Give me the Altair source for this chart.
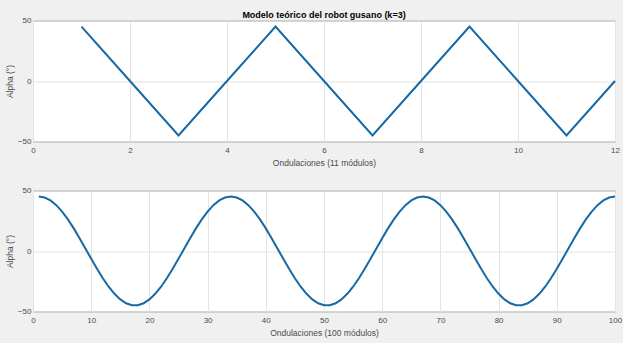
import altair as alt
import pandas as pd

# Top panel: 11 modules (x = 1..12)
x_top = [1, 2, 3, 4, 5, 6, 7, 8, 9, 10, 11, 12]
alpha_top = [45, 0, -45, 0, 45, 0, -45, 0, 45, 0, -45, 0]

# Bottom panel: 100 modules (x = 1..100)
x_bot = list(range(1, 101))
alpha_bot = [
    45.0, 44.2, 41.8, 37.9, 32.6, 26.1, 18.7, 10.6, 2.1, -6.4, -14.7,
    -22.5, -29.5, -35.4, -40.0, -43.2, -44.8, -44.8, -43.2, -40.0, -35.4, -29.5,
    -22.5, -14.7, -6.4, 2.1, 10.6, 18.7, 26.1, 32.6, 37.9, 41.8, 44.2,
    45.0, 44.2, 41.8, 37.9, 32.6, 26.1, 18.7, 10.6, 2.1, -6.4, -14.7,
    -22.5, -29.5, -35.4, -40.0, -43.2, -44.8, -44.8, -43.2, -40.0, -35.4, -29.5,
    -22.5, -14.7, -6.4, 2.1, 10.6, 18.7, 26.1, 32.6, 37.9, 41.8, 44.2,
    45.0, 44.2, 41.8, 37.9, 32.6, 26.1, 18.7, 10.6, 2.1, -6.4, -14.7,
    -22.5, -29.5, -35.4, -40.0, -43.2, -44.8, -44.8, -43.2, -40.0, -35.4, -29.5,
    -22.5, -14.7, -6.4, 2.1, 10.6, 18.7, 26.1, 32.6, 37.9, 41.8, 44.2,
    45.0,
]

top_df = pd.DataFrame({"x": x_top, "alpha": alpha_top})
bot_df = pd.DataFrame({"x": x_bot, "alpha": alpha_bot})

LINE = "#1769a6"
W, H = 582, 121

def panel(df, xmax, step, xlabel, title=None):
    xticks = list(range(0, xmax + 1, step))
    ch = alt.Chart(df).mark_line(color=LINE, strokeWidth=2).encode(
        x=alt.X("x:Q", scale=alt.Scale(domain=[0, xmax], nice=False),
                axis=alt.Axis(values=xticks, title=xlabel, format="d")),
        y=alt.Y("alpha:Q", scale=alt.Scale(domain=[-50, 50], nice=False),
                axis=alt.Axis(values=[-50, 0, 50], title="Alpha (°)")),
    ).properties(width=W, height=H)
    if title:
        ch = ch.properties(title=alt.TitleParams(title, fontSize=9, fontWeight="bold",
                                                 color="#000000", font="Liberation Sans",
                                                 offset=-3))
    return ch

top = panel(top_df, 12, 2, "Ondulaciones (11 módulos)", "Modelo teórico del robot gusano (k=3)")
bot = panel(bot_df, 100, 10, "Ondulaciones (100 módulos)")

chart = alt.vconcat(top, bot, spacing=49, bounds="flush").properties(
    background="#f0f0f0",
    padding={"left": 4, "top": 9.5, "right": 0, "bottom": 11},
).configure_view(
    fill="white", stroke="#8a8a8a", strokeWidth=1
).configure_axis(
    grid=True, gridColor="#e3e3e3", gridWidth=1,
    domain=False, ticks=False,
    labelFont="Liberation Sans", labelFontSize=8, labelColor="#4a4a4a",
    titleFont="Liberation Sans", titleFontSize=8.5, titleFontWeight="normal",
    titleColor="#4a4a4a",
).configure_axisX(
    titlePadding=4, labelPadding=5, labelFlush=False
).configure_axisY(
    titlePadding=3, labelPadding=2
)

chart.save("out.html", embed_options={"renderer": "svg", "actions": False})
